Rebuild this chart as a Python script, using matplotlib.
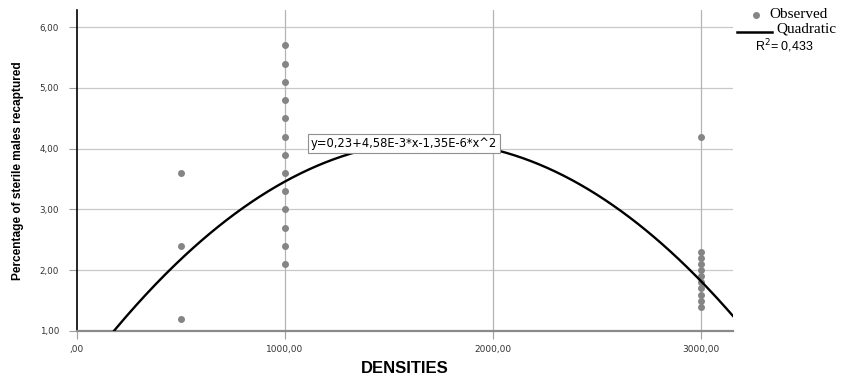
import matplotlib
matplotlib.use("Agg")
import matplotlib.pyplot as plt
from matplotlib.lines import Line2D
import numpy as np

# Data
dens_500 = [500, 500, 500]
obs_500 = [3.6, 2.4, 1.2]
dens_1000 = [1000] * 13
obs_1000 = [5.7, 5.4, 5.1, 4.8, 4.5, 4.2, 3.9, 3.6, 3.3, 3.0, 2.7, 2.4, 2.1]
dens_3000 = [3000] * 11
obs_3000 = [4.2, 2.3, 2.2, 2.1, 2.0, 1.9, 1.8, 1.7, 1.6, 1.5, 1.4]
coef = [0.23, 4.58e-3, -1.35e-6]
xticks = [0, 1000, 2000, 3000]
xtick_labels = [",00", "1000,00", "2000,00", "3000,00"]
yticks = [1, 2, 3, 4, 5, 6]
ytick_labels = ["1,00", "2,00", "3,00", "4,00", "5,00", "6,00"]
eq_text = "y=0,23+4,58E-3*x-1,35E-6*x^2"
r2_text = "R$^2$= 0,433"

plt.rcParams['font.family'] = ['Liberation Sans', 'DejaVu Sans']

fig = plt.figure(figsize=(8.45, 3.76), dpi=100)
ax = fig.add_axes([0.0911, 0.1197, 0.7764, 0.8533])

xmin, xmax = 0, 3154
ymin, ymax = 1.0, 6.28
ax.set_xlim(xmin, xmax)
ax.set_ylim(ymin, ymax)

for y in yticks:
    ax.axhline(y, color='#c8c8c8', lw=0.9, zorder=0)
for x in xticks[1:]:
    ax.axvline(x, color='#b4b4b4', lw=0.9, zorder=0)

xs = np.concatenate([dens_500, dens_1000, dens_3000])
ys = np.concatenate([obs_500, obs_1000, obs_3000])
ax.plot(xs, ys, 'o', color='#858585', ms=4.0, mec='#858585', zorder=3, clip_on=False)

xx = np.linspace(xmin, xmax, 400)
yy = coef[0] + coef[1] * xx + coef[2] * xx ** 2
ax.plot(xx, yy, color='black', lw=1.7, zorder=4)

ax.text(1125, 4.08, eq_text, fontsize=8.3, family='DejaVu Sans', va='center', ha='left', zorder=5,
        bbox=dict(boxstyle='square,pad=0.25', fc='white', ec='#909090', lw=0.8))

ax.set_xticks(xticks)
ax.set_xticklabels(xtick_labels, fontsize=6.5, family='DejaVu Sans', color='#333333')
ax.set_yticks(yticks)
ax.set_yticklabels(ytick_labels, fontsize=6.3, family='DejaVu Sans', color='#333333')
ax.tick_params(axis='both', length=6, color='#a0a0a0', width=0.8)
ax.tick_params(axis='x', pad=4)
ax.tick_params(axis='y', pad=7)

ax.spines['top'].set_visible(False)
ax.spines['right'].set_visible(False)
ax.spines['left'].set_color('black')
ax.spines['left'].set_linewidth(1.2)
ax.spines['bottom'].set_color('#8a8a8a')
ax.spines['bottom'].set_linewidth(1.6)

ax.set_xlabel("DENSITIES", fontsize=12, fontweight='bold', labelpad=5)
ax.set_ylabel("Percentage of sterile males recaptured", fontsize=8.6, fontweight='bold', labelpad=11)

# Legend
fig.add_artist(Line2D([756 / 845], [1 - 15 / 376], marker='o', color='#858585', ms=4.0, ls='none',
                      transform=fig.transFigure))
fig.text(769 / 845, 1 - 15 / 376, "Observed", fontsize=11, family='Liberation Serif', va='center', ha='left')
fig.add_artist(Line2D([737 / 845, 772 / 845], [1 - 32 / 376, 1 - 32 / 376], color='black', lw=1.8,
                      transform=fig.transFigure))
fig.text(776 / 845, 1 - 29 / 376, "Quadratic", fontsize=11, family='Liberation Serif', va='center', ha='left')
fig.text(755 / 845, 1 - 46 / 376, r2_text, fontsize=9, va='center', ha='left')

fig.savefig("out.png", dpi=100)
